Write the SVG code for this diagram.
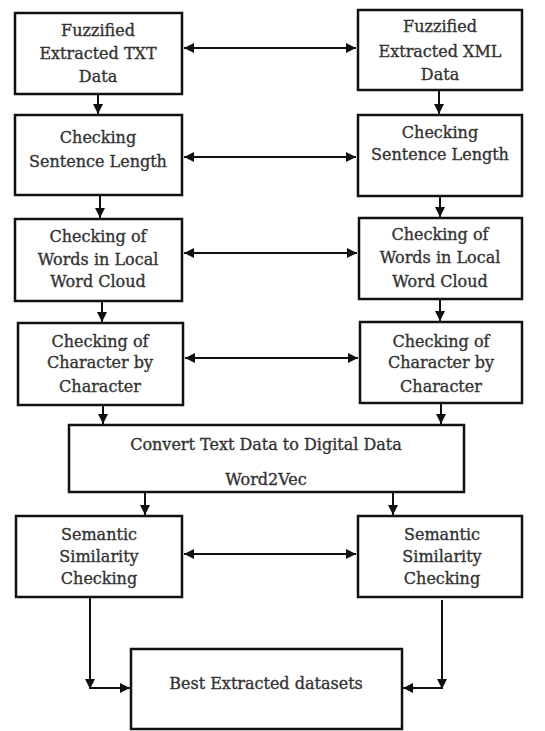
<svg xmlns="http://www.w3.org/2000/svg" width="545" height="731" viewBox="0 0 545 731">
<style>
.box{fill:#fff;stroke:#111;stroke-width:2.5}
.t{font-family:"DejaVu Serif","Liberation Serif",serif;font-size:16px;fill:#333;stroke:#333;stroke-width:0.35;text-anchor:middle}
.c{fill:none;stroke:#111;stroke-width:2}
</style>
<defs>
<marker id="ah" viewBox="0 0 10 10" refX="10" refY="5" markerWidth="5" markerHeight="5" orient="auto-start-reverse" markerUnits="strokeWidth">
<path d="M0,0 L10,5 L0,10 z" fill="#111"/>
</marker>
</defs>
<rect width="545" height="731" fill="#fff"/>
<g id="connectors">
<line class="c" x1="184" y1="48" x2="356" y2="48" marker-start="url(#ah)" marker-end="url(#ah)"/>
<line class="c" x1="184" y1="157" x2="356" y2="157" marker-start="url(#ah)" marker-end="url(#ah)"/>
<line class="c" x1="184" y1="253" x2="357" y2="253" marker-start="url(#ah)" marker-end="url(#ah)"/>
<line class="c" x1="185" y1="358" x2="358" y2="358" marker-start="url(#ah)" marker-end="url(#ah)"/>
<line class="c" x1="184" y1="554" x2="356" y2="554" marker-start="url(#ah)" marker-end="url(#ah)"/>
<line class="c" x1="98" y1="95" x2="98" y2="114" marker-end="url(#ah)"/>
<line class="c" x1="439" y1="91" x2="439" y2="114" marker-end="url(#ah)"/>
<line class="c" x1="100" y1="196" x2="100" y2="218" marker-end="url(#ah)"/>
<line class="c" x1="440" y1="197" x2="440" y2="217" marker-end="url(#ah)"/>
<line class="c" x1="102" y1="302" x2="102" y2="322" marker-end="url(#ah)"/>
<line class="c" x1="440" y1="300" x2="440" y2="321" marker-end="url(#ah)"/>
<line class="c" x1="103" y1="406" x2="103" y2="424" marker-end="url(#ah)"/>
<line class="c" x1="441" y1="404" x2="441" y2="424" marker-end="url(#ah)"/>
<line class="c" x1="145" y1="493" x2="145" y2="515" marker-end="url(#ah)"/>
<line class="c" x1="393" y1="493" x2="393" y2="515" marker-end="url(#ah)"/>
<line class="c" x1="90" y1="598" x2="90" y2="689" marker-end="url(#ah)"/>
<line class="c" x1="90" y1="688" x2="130" y2="688" marker-end="url(#ah)"/>
<line class="c" x1="442" y1="600" x2="442" y2="689" marker-end="url(#ah)"/>
<line class="c" x1="442" y1="688" x2="403" y2="688" marker-end="url(#ah)"/>
</g>
<g id="txt1">
<rect class="box" x="15" y="13" width="167" height="81"/>
<text class="t" x="98" y="36">Fuzzified</text>
<text class="t" x="98" y="59">Extracted TXT</text>
<text class="t" x="98" y="82">Data</text>
</g>
<g id="xml1">
<rect class="box" x="358" y="10" width="164" height="80"/>
<text class="t" x="440" y="32">Fuzzified</text>
<text class="t" x="440" y="57">Extracted XML</text>
<text class="t" x="440" y="80">Data</text>
</g>
<g id="txt2">
<rect class="box" x="15" y="115" width="167" height="80"/>
<text class="t" x="98" y="143">Checking</text>
<text class="t" x="98" y="167">Sentence Length</text>
</g>
<g id="xml2">
<rect class="box" x="358" y="115" width="164" height="81"/>
<text class="t" x="440" y="138">Checking</text>
<text class="t" x="440" y="160">Sentence Length</text>
</g>
<g id="txt3">
<rect class="box" x="15" y="219" width="167" height="82"/>
<text class="t" x="98" y="242">Checking of</text>
<text class="t" x="98" y="265">Words in Local</text>
<text class="t" x="98" y="287">Word Cloud</text>
</g>
<g id="xml3">
<rect class="box" x="359" y="218" width="163" height="81"/>
<text class="t" x="440" y="240">Checking of</text>
<text class="t" x="440" y="263">Words in Local</text>
<text class="t" x="440" y="287">Word Cloud</text>
</g>
<g id="txt4">
<rect class="box" x="18" y="323" width="165" height="82"/>
<text class="t" x="100" y="347">Checking of</text>
<text class="t" x="100" y="368">Character by</text>
<text class="t" x="100" y="392">Character</text>
</g>
<g id="xml4">
<rect class="box" x="360" y="322" width="162" height="81"/>
<text class="t" x="441" y="347">Checking of</text>
<text class="t" x="441" y="368">Character by</text>
<text class="t" x="441" y="392">Character</text>
</g>
<g id="convert">
<rect class="box" x="69" y="425" width="395" height="67"/>
<text class="t" x="266" y="450">Convert Text Data to Digital Data</text>
<text class="t" x="266" y="485">Word2Vec</text>
</g>
<g id="txt5">
<rect class="box" x="16" y="516" width="166" height="81"/>
<text class="t" x="99" y="540">Semantic</text>
<text class="t" x="99" y="562">Similarity</text>
<text class="t" x="99" y="584">Checking</text>
</g>
<g id="xml5">
<rect class="box" x="358" y="516" width="164" height="81"/>
<text class="t" x="442" y="540">Semantic</text>
<text class="t" x="442" y="562">Similarity</text>
<text class="t" x="442" y="584">Checking</text>
</g>
<g id="best">
<rect class="box" x="131" y="649" width="271" height="80"/>
<text class="t" x="266" y="689">Best Extracted datasets</text>
</g>
</svg>
